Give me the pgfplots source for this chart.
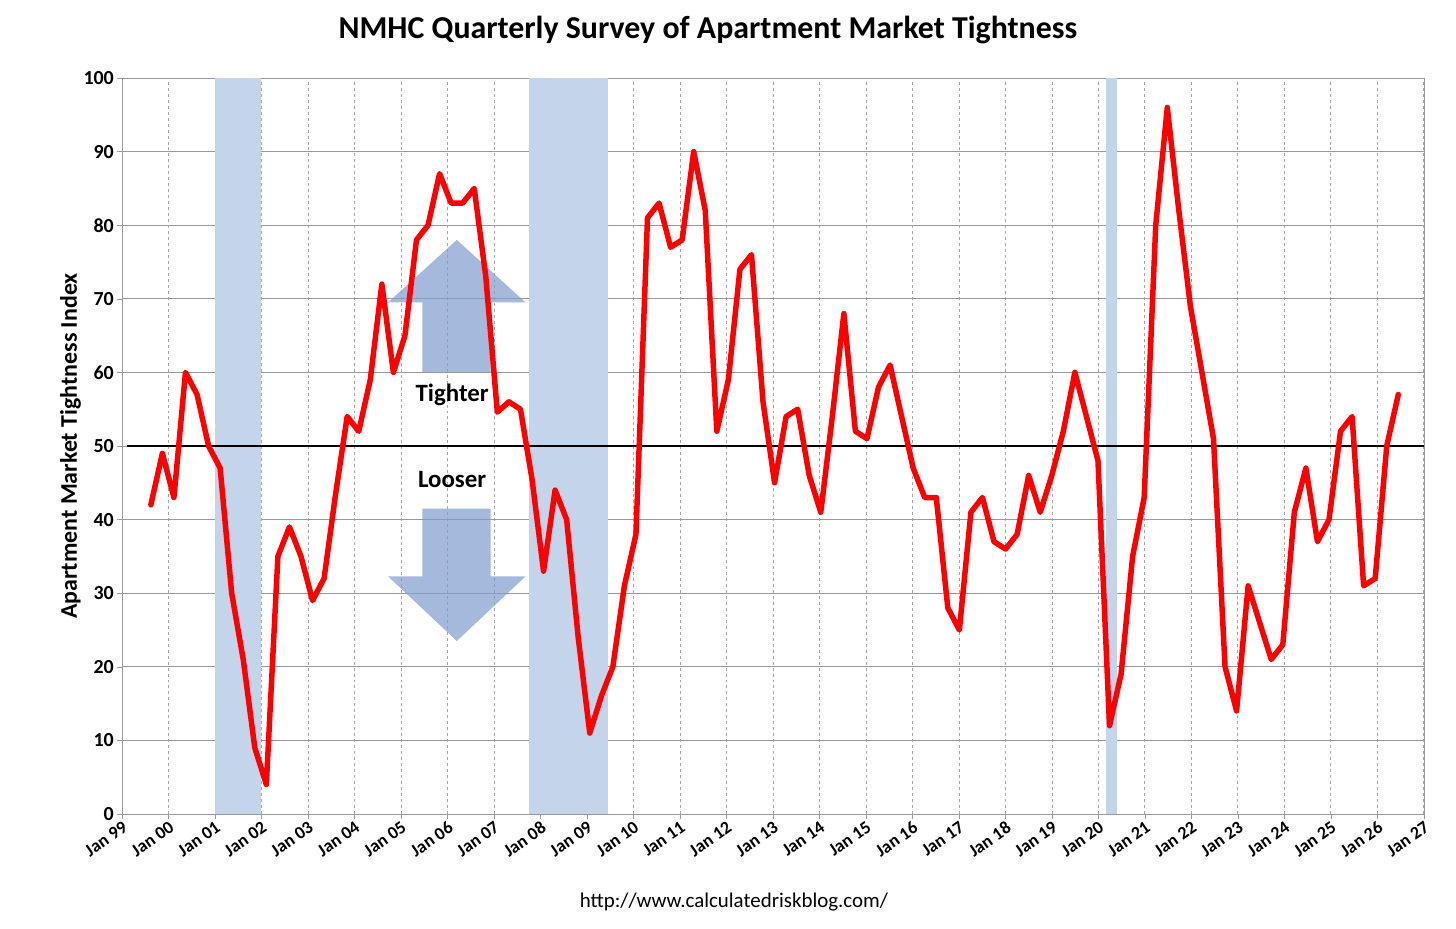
\documentclass[border=0pt]{standalone}
\usepackage{pgfplots}
\pgfplotsset{compat=1.18}
\usepackage{pgfplotstable}
\usepackage{fontspec}
\setmainfont{Carlito}
\definecolor{recess}{RGB}{196,213,235}
\definecolor{arrowc}{RGB}{125,155,205}
\newcommand{\xl}[1]{\bfseries\fontsize{18}{20}\selectfont #1}
\newcommand{\yl}[1]{\bfseries\fontsize{20}{22}\selectfont #1}
\pgfplotstableread{
v
42
49
43
60
57
50
47
30
21
9
4
35
39
35
29
32
43.5
54
52
59
72
60
65
78
80
87
83
83
85
73
54.6
56
55
45.5
33
44
40
24
11
16
20
31
38
81
83
77
78
90
82
52
59
74
76
56
45
54
55
46
41
54
68
52
51
58
61
54
47
43
43
28
25
41
43
37
36
38
46
41
46
52
60
54
48
12
19
35
43
80
96
82
69
60
51
20
14
31
26
21
23
41
47
37
40
52
54
31
32
50
57
}\tight
\begin{document}
\begin{tikzpicture}
\useasboundingbox (-122bp,-115bp) rectangle (1334bp,814bp);
\begin{axis}[
  at={(0,0)}, anchor=south west,
  scale only axis, width=1302bp, height=736bp,
  xmin=1999, xmax=2027, ymin=0, ymax=100,
  xtick={1999,...,2027},
  xticklabels={\xl{Jan 99},\xl{Jan 00},\xl{Jan 01},\xl{Jan 02},\xl{Jan 03},\xl{Jan 04},\xl{Jan 05},\xl{Jan 06},\xl{Jan 07},\xl{Jan 08},\xl{Jan 09},\xl{Jan 10},\xl{Jan 11},\xl{Jan 12},\xl{Jan 13},\xl{Jan 14},\xl{Jan 15},\xl{Jan 16},\xl{Jan 17},\xl{Jan 18},\xl{Jan 19},\xl{Jan 20},\xl{Jan 21},\xl{Jan 22},\xl{Jan 23},\xl{Jan 24},\xl{Jan 25},\xl{Jan 26},\xl{Jan 27}},
  xticklabel style={rotate=35, anchor=north east, inner sep=1pt},
  ytick={0,10,...,100},
  yticklabels={\yl{0},\yl{10},\yl{20},\yl{30},\yl{40},\yl{50},\yl{60},\yl{70},\yl{80},\yl{90},\yl{100}},
  yticklabel style={inner sep=3pt},
  ylabel={Apartment Market Tightness Index},
  ylabel style={font=\bfseries\fontsize{24}{26}\selectfont, yshift=-4pt},
  xmajorgrids, ymajorgrids,
  x grid style={gray!70, dashed, line width=0.8pt},
  y grid style={gray!80, line width=0.9pt},
  axis line style={gray!80, line width=0.9pt},
  major tick length=5pt,
  tick style={gray!80},
  tick align=outside,
  xtick pos=bottom, ytick pos=left,
  clip=false,
]
\fill[recess] (axis cs:2001,0) rectangle (axis cs:2002,100);
\fill[recess] (axis cs:2007.75,0) rectangle (axis cs:2009.45,100);
\fill[recess] (axis cs:2020.17,0) rectangle (axis cs:2020.4,100);
\fill[arrowc, opacity=0.7] (axis cs:2005.46,60) -- (axis cs:2005.46,69.5) -- (axis cs:2004.72,69.5) -- (axis cs:2006.2,78) -- (axis cs:2007.68,69.5) -- (axis cs:2006.93,69.5) -- (axis cs:2006.93,60) -- cycle;
\fill[arrowc, opacity=0.7] (axis cs:2005.46,41.5) -- (axis cs:2005.46,32.3) -- (axis cs:2004.72,32.3) -- (axis cs:2006.2,23.5) -- (axis cs:2007.68,32.3) -- (axis cs:2006.93,32.3) -- (axis cs:2006.93,41.5) -- cycle;
\node[font=\bfseries\fontsize{25}{27}\selectfont] at (axis cs:2006.1,57) {Tighter};
\node[font=\bfseries\fontsize{25}{27}\selectfont] at (axis cs:2006.1,45.5) {Looser};
\draw[black, line width=2.6pt] (axis cs:1999.1,50) -- (axis cs:2027,50);
\addplot[red, line width=5.5pt, line join=round, line cap=round] table[x expr={1999.62+\coordindex*0.2484}, y=v] {\tight};
\node[font=\bfseries\fontsize{32}{34}\selectfont] at (rel axis cs:0.45,1.065) {NMHC Quarterly Survey of Apartment Market Tightness};
\node[font=\fontsize{21}{23}\selectfont] at (rel axis cs:0.47,-0.12) {http://www.calculatedriskblog.com/};
\end{axis}
\end{tikzpicture}
\end{document}
